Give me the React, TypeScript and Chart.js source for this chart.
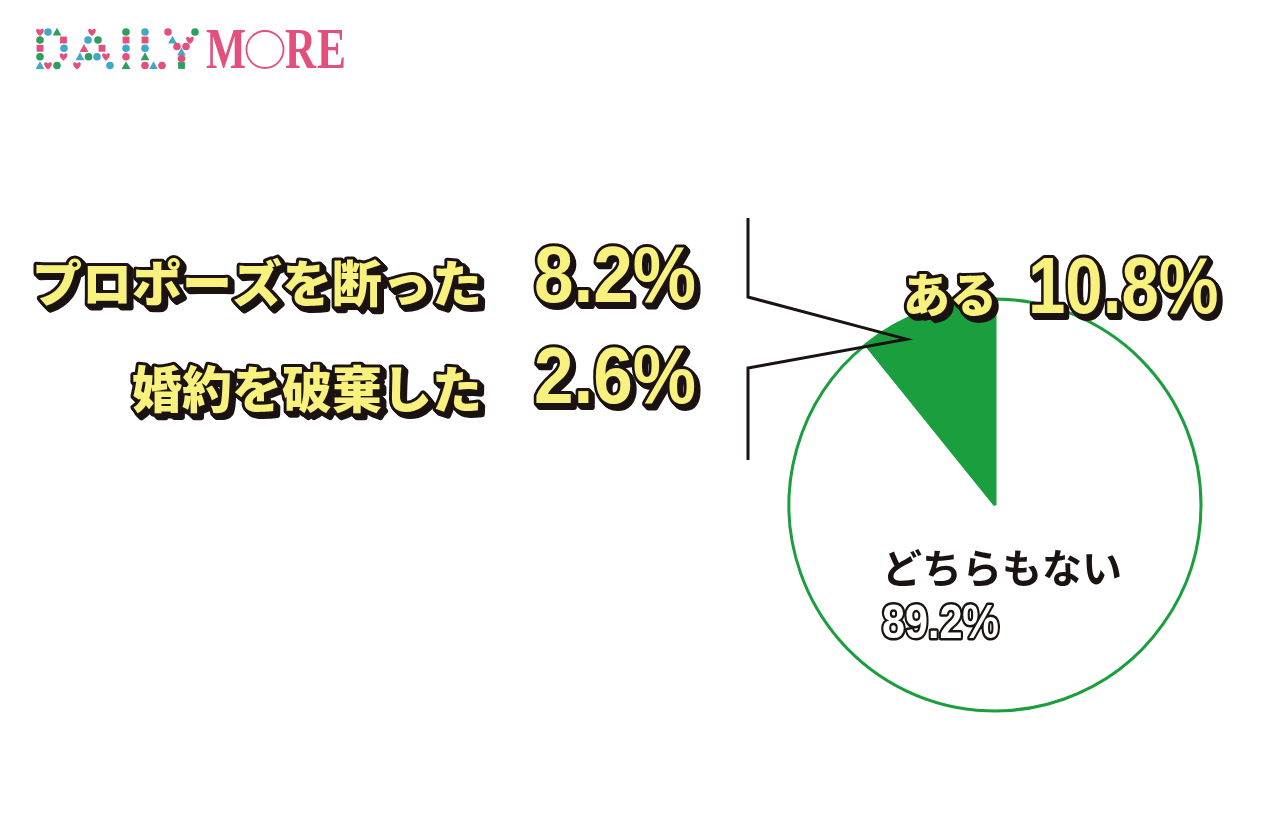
import React, { useEffect, useRef } from "react";
import { Chart, registerables } from "chart.js";

Chart.register(...registerables);

// Main split of answers
const categories = ["ある", "どちらもない"];
const values = [10.8, 89.2];

// Breakdown of the "ある" answers
const breakdownLabels = ["プロポーズを断った", "婚約を破棄した"];
const breakdownValues = [8.2, 2.6];

const GREEN = "#1b9e3e";
const YELLOW = "#f8f17e";
const INK = "#1a1311";
const PINK = "#e4507d";
const TEAL = "#3fa9c9";
const LOGO_GREEN = "#2e9e5e";

const fmt = (v: number) => `${v.toFixed(1)}%`;

// Yellow lettering with black outline and an extruded drop shadow
function drawPop(
  ctx: CanvasRenderingContext2D,
  text: string,
  x: number,
  y: number,
  font: string,
  align: CanvasTextAlign,
  baseline: CanvasTextBaseline,
  scaleX = 1
) {
  ctx.save();
  ctx.translate(x, y);
  ctx.scale(scaleX, 1);
  ctx.font = font;
  ctx.textAlign = align;
  ctx.textBaseline = baseline;
  ctx.lineJoin = "round";
  ctx.fillStyle = INK;
  ctx.strokeStyle = INK;
  ctx.lineWidth = 6;
  for (let i = 1; i <= 4; i++) {
    ctx.strokeText(text, i, i);
    ctx.fillText(text, i, i);
  }
  ctx.strokeText(text, 0, 0);
  ctx.fillStyle = YELLOW;
  ctx.fillText(text, 0, 0);
  ctx.restore();
}

function drawShape(ctx: CanvasRenderingContext2D, kind: string, x: number, y: number, color: string) {
  const s = 3.8;
  ctx.fillStyle = color;
  ctx.beginPath();
  if (kind === "c") {
    ctx.arc(x, y, s, 0, Math.PI * 2);
  } else if (kind === "t") {
    ctx.moveTo(x, y - s * 1.15);
    ctx.lineTo(x + s * 1.15, y + s * 0.95);
    ctx.lineTo(x - s * 1.15, y + s * 0.95);
    ctx.closePath();
  } else if (kind === "s") {
    ctx.rect(x - s * 0.9, y - s * 0.9, s * 1.8, s * 1.8);
  } else {
    // heart
    ctx.moveTo(x, y + s * 1.05);
    ctx.bezierCurveTo(x - s * 1.7, y - s * 0.2, x - s * 0.95, y - s * 1.55, x, y - s * 0.5);
    ctx.bezierCurveTo(x + s * 0.95, y - s * 1.55, x + s * 1.7, y - s * 0.2, x, y + s * 1.05);
  }
  ctx.fill();
}

// Dotted "DAILY" letters: [x, y, shape, colour]
const R = [32, 40, 48.3, 56.7, 65.5];
const logoDots: [number, number, string, string][] = [
  // D
  [40, R[0], "h", PINK], [48, R[0], "c", TEAL], [57, R[0], "t", LOGO_GREEN],
  [40, R[1], "c", LOGO_GREEN], [63.5, R[1], "s", PINK],
  [40, R[2], "s", PINK], [64, R[2], "c", TEAL],
  [40, R[3], "c", LOGO_GREEN], [63.5, R[3], "h", PINK],
  [40, R[4], "t", TEAL], [48, R[4], "h", PINK], [57, R[4], "c", LOGO_GREEN],
  // A
  [92, R[0], "h", PINK],
  [88, R[1], "c", TEAL], [98, R[1], "c", LOGO_GREEN],
  [84, R[2], "t", PINK], [102, R[2], "s", PINK],
  [80, R[3], "t", TEAL], [88.5, R[3], "c", LOGO_GREEN], [97, R[3], "c", TEAL], [106, R[3], "h", PINK],
  [77, R[4], "h", PINK], [110, R[4], "c", TEAL],
  // I
  [126, R[0], "c", LOGO_GREEN], [126, R[1], "s", PINK], [126, R[2], "c", TEAL],
  [126, R[3], "c", PINK], [126, R[4], "t", LOGO_GREEN],
  // L
  [145, R[0], "c", TEAL], [145, R[1], "s", PINK], [145, R[2], "c", TEAL],
  [145, R[3], "t", LOGO_GREEN], [145, R[4], "c", PINK], [153.5, R[4], "t", TEAL], [162, R[4], "c", PINK],
  // Y
  [168, R[0], "c", PINK], [195, R[0], "c", LOGO_GREEN],
  [172.5, R[1], "t", TEAL], [190, R[1], "h", PINK],
  [177, 46.5, "c", PINK], [186, 46.5, "c", PINK],
  [181.5, 52, "t", TEAL], [181.5, 58.5, "c", PINK], [181.5, 65.5, "s", LOGO_GREEN],
];

function drawFitted(ctx: CanvasRenderingContext2D, text: string, x: number, baseline: number, width: number) {
  const w = ctx.measureText(text).width;
  ctx.save();
  ctx.translate(x, baseline);
  ctx.scale(width / w, 1);
  ctx.fillText(text, 0, 0);
  ctx.restore();
}

function drawLogo(ctx: CanvasRenderingContext2D) {
  ctx.save();
  logoDots.forEach(([x, y, k, c]) => drawShape(ctx, k, x, y, c));
  ctx.fillStyle = PINK;
  ctx.font = 'bold 56px "Liberation Serif"';
  ctx.textAlign = "left";
  ctx.textBaseline = "alphabetic";
  drawFitted(ctx, "M", 206, 68, 40);
  ctx.strokeStyle = PINK;
  ctx.lineWidth = 1.8;
  ctx.beginPath();
  ctx.arc(265, 49.5, 18.5, 0, Math.PI * 2);
  ctx.stroke();
  drawFitted(ctx, "R", 285, 68, 31);
  drawFitted(ctx, "E", 317, 68, 29);
  ctx.restore();
}

const annotations = {
  id: "annotations",
  afterDraw(chart: Chart) {
    const ctx = chart.ctx;
    const arc: any = chart.getDatasetMeta(0).data[0];
    const cx = arc.x;
    const cy = arc.y;
    const r = arc.outerRadius;

    drawLogo(ctx);

    // bracket linking the breakdown to the "ある" slice
    const ax = cx - r * 0.43;
    const ay = cy - r * 0.805;
    const bx = cx - 247;
    ctx.save();
    ctx.strokeStyle = INK;
    ctx.lineWidth = 3;
    ctx.lineJoin = "miter";
    ctx.beginPath();
    ctx.moveTo(bx, cy - 287);
    ctx.lineTo(bx, cy - 208);
    ctx.lineTo(ax, ay);
    ctx.lineTo(bx, cy - 137);
    ctx.lineTo(bx, cy - 45);
    ctx.stroke();
    ctx.restore();

    const jp = (size: number) => `900 ${size}px "Noto Sans CJK JP"`;
    const num = (size: number) => `bold ${size}px "Liberation Sans"`;

    // breakdown rows
    drawPop(ctx, breakdownLabels[0], 482, 283, jp(50), "right", "middle");
    drawPop(ctx, fmt(breakdownValues[0]), 534, 302, num(79), "left", "alphabetic", 0.9);
    drawPop(ctx, breakdownLabels[1], 482, 389, jp(50), "right", "middle");
    drawPop(ctx, fmt(breakdownValues[1]), 534, 403, num(79), "left", "alphabetic", 0.9);

    // slice label
    drawPop(ctx, categories[0], cx + 2, cy - 211, jp(47), "right", "middle");
    drawPop(ctx, fmt(values[0]), cx + 33, cy - 192, num(80), "left", "alphabetic", 0.84);

    // remaining share label inside the pie
    ctx.save();
    ctx.fillStyle = INK;
    ctx.font = 'bold 40px "Noto Sans CJK JP"';
    ctx.textAlign = "left";
    ctx.textBaseline = "middle";
    ctx.fillText(categories[1], cx - 113, cy + 63);
    ctx.translate(cx - 113, cy + 133);
    ctx.scale(0.86, 1);
    ctx.font = num(48);
    ctx.textBaseline = "alphabetic";
    ctx.lineJoin = "round";
    ctx.lineWidth = 5;
    ctx.strokeStyle = INK;
    ctx.strokeText(fmt(values[1]), 0, 0);
    ctx.fillStyle = "#ffffff";
    ctx.fillText(fmt(values[1]), 0, 0);
    ctx.restore();
  },
};

export default function App() {
  const canvasRef = useRef<HTMLCanvasElement | null>(null);

  useEffect(() => {
    if (!canvasRef.current) return;
    const chart = new Chart(canvasRef.current, {
      type: "pie",
      data: {
        labels: categories,
        datasets: [
          {
            data: values,
            backgroundColor: [GREEN, "#ffffff"],
            borderColor: GREEN,
            borderWidth: 3,
          },
        ],
      },
      options: {
        animation: false,
        responsive: false,
        rotation: -values[0] * 3.6,
        radius: 206,
        layout: { padding: { left: 780, right: 70, top: 290, bottom: 96 } },
        plugins: {
          legend: { display: false },
          tooltip: { enabled: false },
        },
      },
      plugins: [annotations],
    });
    return () => chart.destroy();
  }, []);

  return (
    <div style={{ position: "fixed", left: 0, top: 0, width: 1280, height: 816, background: "#ffffff" }}>
      <canvas ref={canvasRef} width={1280} height={816} style={{ display: "block" }} />
    </div>
  );
}
